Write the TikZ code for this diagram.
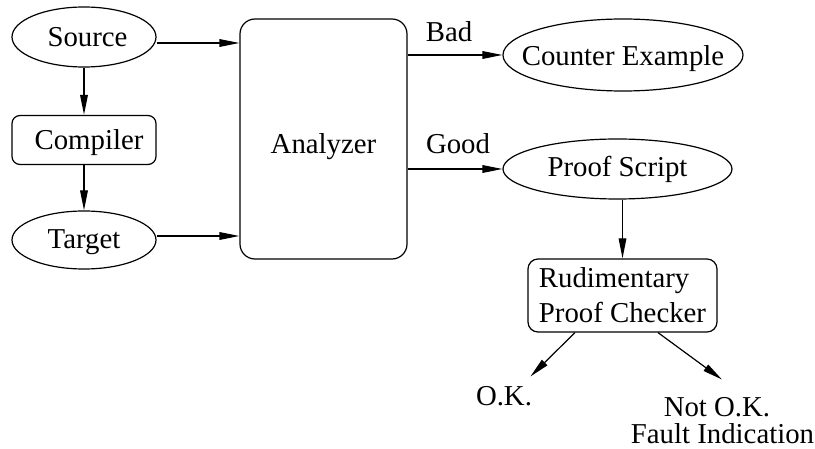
\documentclass[tikz,border=0pt]{standalone}
\usepackage{fontspec}
\setmainfont{Liberation Serif}
\usetikzlibrary{shapes.geometric,arrows.meta}
\begin{document}
\begin{tikzpicture}[x=0.5pt,y=-0.5pt,
  every node/.style={font=\fontsize{14.4pt}{17.5pt}\selectfont, inner sep=0pt},
  ell/.style={draw, ellipse, line width=0.6pt},
  rbox/.style={draw, line width=0.6pt},
  arr/.style={-{Triangle[length=10pt,width=3.8pt]}, line width=0.6pt},
  lbl/.style={anchor=base}]
\useasboundingbox (0,0) rectangle (815,449);
% nodes
\node[ell, minimum width=72pt, minimum height=30pt] (src) at (84,37) {\hspace{3.5pt}Source};
\node[rbox, rounded corners=4pt, minimum width=72pt, minimum height=24.5pt] (cmp) at (84,140) {\hspace{5pt}\raisebox{-1.5pt}[\height][\depth]{Compiler}};
\node[ell, minimum width=72pt, minimum height=29pt] (tgt) at (84,240) {\raisebox{-1pt}[\height][\depth]{Target}\hspace{10.5pt}};
\node[rbox, rounded corners=7.5pt, minimum width=83.5pt, minimum height=120pt] (ana) at (323.5,139) {\raisebox{-4pt}[\height][\depth]{Analyzer}\hspace{7.5pt}};
\node[ell, inner xsep=-10pt, minimum width=120pt, minimum height=36pt] (ce) at (623,55) {\raisebox{-2pt}[\height][\depth]{Counter Example}\hspace{7pt}};
\node[ell, minimum width=114.5pt, minimum height=30pt] (ps) at (617.5,169) {Proof Script\hspace{8.5pt}};
\node[rbox, rounded corners=5pt, minimum width=94.5pt, minimum height=36.5pt, align=left] (rud) at (622.5,295.5) {Rudimentary\\Proof Checker};
\node[lbl] (bad) at (449,42) {Bad};
\node[lbl] (good) at (458,154) {Good};
\node[lbl] (ok) at (504,405) {O.K.};
\node[lbl] (nok) at (717,416) {Not O.K.};
\node[lbl] (fault) at (722.5,443) {Fault Indication};
% connectors
\coordinate (s1) at ([yshift=-3pt]src.east);
\coordinate (t1) at ([yshift=2pt]tgt.east);
\draw[arr] (src.south) -- (cmp.north);
\draw[arr] (cmp.south) -- (tgt.north);
\draw[arr] (s1) -- (s1 -| ana.west);
\draw[arr] (t1) -- (t1 -| ana.west);
\draw[arr] (ce.west -| ana.east) -- (ce.west);
\draw[arr] (ps.west -| ana.east) -- (ps.west);
\draw[arr] (rud.north |- ps.south) -- (rud.north);
\draw[arr] ([xshift=-23.75pt]rud.south) -- ([shift={(-1pt,4.5pt)}]ok.north east);
\draw[arr] ([xshift=17.75pt]rud.south) -- ([shift={(2.5pt,8.5pt)}]nok.north);
\end{tikzpicture}
\end{document}
